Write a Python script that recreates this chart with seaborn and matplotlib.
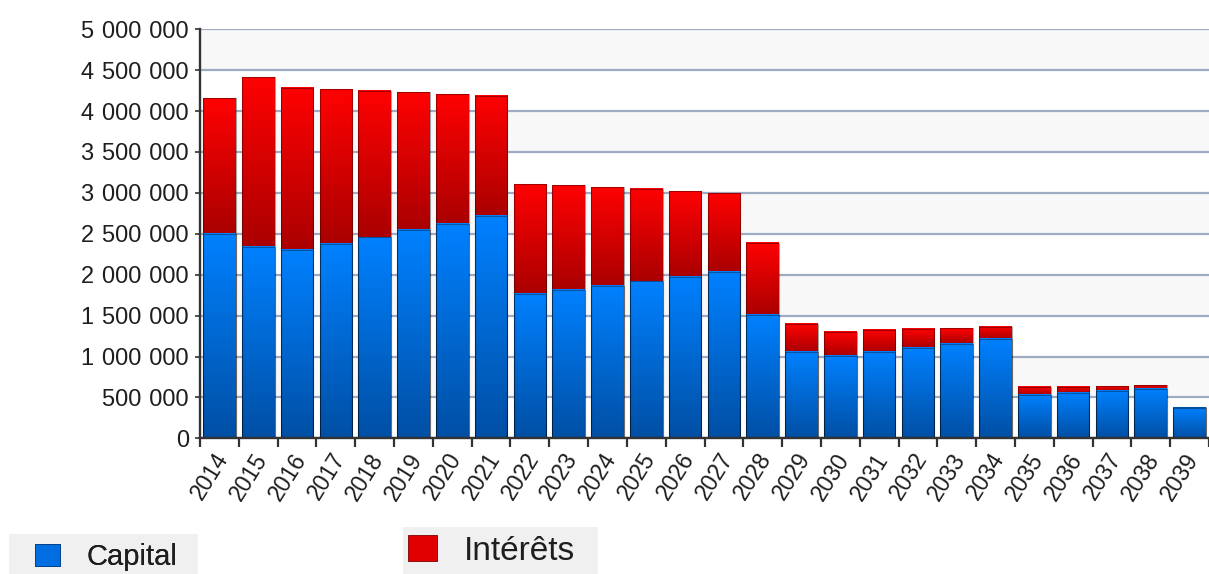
import numpy as np
import pandas as pd
import matplotlib
matplotlib.use("Agg")
import matplotlib.pyplot as plt
import matplotlib.transforms as mtrans
from matplotlib.patches import Patch, Rectangle
from matplotlib.colors import LinearSegmentedColormap
import seaborn as sns

# ---------------- data ----------------
annees = ["2014", "2015", "2016", "2017", "2018", "2019", "2020", "2021", "2022",
          "2023", "2024", "2025", "2026", "2027", "2028", "2029", "2030", "2031",
          "2032", "2033", "2034", "2035", "2036", "2037", "2038", "2039"]
capital = [2500000, 2340000, 2306000, 2380000, 2457000, 2543000, 2624000, 2718000,
           1769000, 1817000, 1866000, 1919000, 1976000, 2033000, 1509000, 1052000,
           1003000, 1052000, 1105000, 1158000, 1215000, 526000, 555000, 583000,
           608000, 376000]
interets = [1657000, 2073000, 1981000, 1886000, 1789000, 1687000, 1585000, 1467000,
            1344000, 1276000, 1207000, 1125000, 1048000, 962000, 881000, 343000,
            302000, 269000, 233000, 188000, 147000, 102000, 77000, 57000,
            45000, 11000]
y_ticks = [0, 500000, 1000000, 1500000, 2000000, 2500000, 3000000, 3500000,
           4000000, 4500000, 5000000]
serie_labels = ["Capital", "Intérêts"]

df = pd.DataFrame({"annee": annees, "capital": capital, "interets": interets})
df["total"] = df["capital"] + df["interets"]

# ---------------- style ----------------
sns.set_style("white")
plt.rcParams["font.family"] = ["Liberation Sans", "DejaVu Sans"]
TXT = "#1e1e1e"

W, H = 1209, 574
fig = plt.figure(figsize=(W / 100, H / 100), dpi=100)
ax = fig.add_axes([200 / W, 1 - 438.3 / H, (W - 200) / W, 409 / H])

# alternating bands
for k in range(len(y_ticks) - 1):
    if k % 2 == 1:
        ax.axhspan(y_ticks[k], y_ticks[k + 1], color="#f8f8f9", zorder=0, lw=0)

n0 = len(ax.patches)
sns.barplot(data=df, x="annee", y="total", order=annees, color="#e00000",
            saturation=1, width=0.84, errorbar=None, ax=ax,
            edgecolor=(0, 0, 0, 0.35), linewidth=0.8, zorder=3)
n1 = len(ax.patches)
sns.barplot(data=df, x="annee", y="capital", order=annees, color="#006ee0",
            saturation=1, width=0.84, errorbar=None, ax=ax,
            edgecolor=(0, 0, 0, 0.35), linewidth=0.8, zorder=3)
n2 = len(ax.patches)
red_patches = ax.patches[n0:n1]
blue_patches = ax.patches[n1:n2]

red_cmap = LinearSegmentedColormap.from_list("r", ["#aa0000", "#ff0202"])
blue_cmap = LinearSegmentedColormap.from_list("b", ["#004fa4", "#0081ff"])
grad = np.linspace(0, 1, 256).reshape(-1, 1)

for i, p in enumerate(red_patches):
    bb = p.get_bbox()
    y0 = df["capital"].iloc[i]
    ax.imshow(grad, cmap=red_cmap, extent=[bb.x0, bb.x1, y0, bb.y1], origin="lower",
              aspect="auto", interpolation="bilinear", zorder=2.5, clip_path=p, clip_on=True)
    p.set_facecolor("none")
for i, p in enumerate(blue_patches):
    bb = p.get_bbox()
    ax.imshow(grad, cmap=blue_cmap, extent=[bb.x0, bb.x1, 0, bb.y1], origin="lower",
              aspect="auto", interpolation="bilinear", zorder=2.6, clip_path=p, clip_on=True)
    p.set_facecolor("none")
    p.set_zorder(3.1)

ax.set_xlim(-0.5, -0.5 + (W - 200) / 39.2)
ax.set_ylim(0, 5000000)

# grid / y axis
ax.set_yticks(y_ticks)
ax.set_yticklabels([f"{v:,}".replace(",", "\u2004") for v in y_ticks],
                   fontsize=17, color=TXT)
ax.yaxis.grid(True, color="#9eabc1", lw=1.6, zorder=1)
ax.xaxis.grid(False)
ax.set_axisbelow(True)
ax.tick_params(axis="y", length=3.5, width=1.2, color="#333333", pad=4.5, left=True)

# x ticks
ax.set_xticks(range(len(annees)))
ax.set_xticklabels(annees, rotation=58, ha="right", va="center",
                   rotation_mode="anchor", fontsize=16.5, color=TXT)
ax.tick_params(axis="x", which="major", length=0, pad=12)
ax.set_xticks(np.arange(-0.5, len(annees), 1), minor=True)
ax.tick_params(axis="x", which="minor", length=6.5, width=1.6, color="#333333", bottom=True)
off = mtrans.ScaledTranslation(4 / 100, 0, fig.dpi_scale_trans)
for lab in ax.get_xticklabels():
    lab.set_transform(lab.get_transform() + off)

ax.set_xlabel("")
ax.set_ylabel("")
for s in ["top", "right"]:
    ax.spines[s].set_visible(False)
for s in ["left", "bottom"]:
    ax.spines[s].set_color("#333333")
    ax.spines[s].set_linewidth(1.7)
    ax.spines[s].set_zorder(5)

# legend boxes (two separate boxes at bottom)
fig.patches.append(Rectangle((9 / W, 0), 189 / W, 40 / H, transform=fig.transFigure,
                             facecolor="#f0f0f0", edgecolor="none", zorder=0))
fig.patches.append(Rectangle((403 / W, 0), 195 / W, 47 / H, transform=fig.transFigure,
                             facecolor="#f0f0f0", edgecolor="none", zorder=0))

fs1 = 21 * 100 / 72
leg1 = fig.legend(handles=[Patch(facecolor="#006ee0", edgecolor="#003f80", lw=0.6,
                                 label=serie_labels[0])],
                  loc="center left", bbox_to_anchor=(35 / W, 1 - 557 / H),
                  frameon=False, borderpad=0, borderaxespad=0, fontsize=21,
                  handlelength=25 / fs1, handleheight=22 / fs1,
                  handletextpad=26 / fs1, labelcolor=TXT)
fig.add_artist(leg1)
fs2 = 24 * 100 / 72
leg2 = fig.legend(handles=[Patch(facecolor="#e00000", edgecolor="#800000", lw=0.6,
                                 label=serie_labels[1])],
                  loc="center left", bbox_to_anchor=(408 / W, 1 - 551 / H),
                  frameon=False, borderpad=0, borderaxespad=0, fontsize=24,
                  handlelength=29 / fs2, handleheight=26 / fs2,
                  handletextpad=27 / fs2, labelcolor=TXT)

fig.savefig("out.png", dpi=100)
